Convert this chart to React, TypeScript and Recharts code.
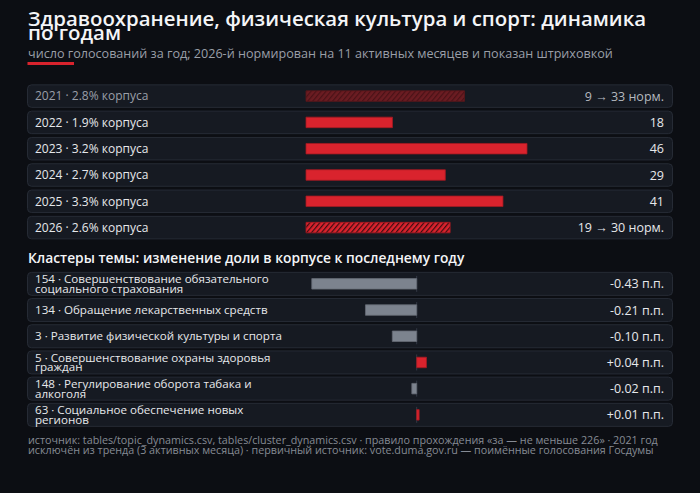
import { Bar, BarChart, Cell, LabelList, XAxis, YAxis } from 'recharts'

const YEARS = ['2021', '2022', '2023', '2024', '2025', '2026']
const CORPUS_SHARE = [2.8, 1.9, 3.2, 2.7, 3.3, 2.6]
const VOTES_RAW = [9, 18, 46, 29, 41, 19]
const VOTES_NORM = [33, 18, 46, 29, 41, 30]
const NORMALIZED_YEARS = ['2021', '2026']
const EXCLUDED_YEARS = ['2021']

const CLUSTER_IDS = [154, 134, 3, 5, 148, 63]
const CLUSTER_NAMES = [
  'Совершенствование обязательного социального страхования',
  'Обращение лекарственных средств',
  'Развитие физической культуры и спорта',
  'Совершенствование охраны здоровья граждан',
  'Регулирование оборота табака и алкоголя',
  'Социальное обеспечение новых регионов',
]
const SHARE_DELTA = [-0.43, -0.21, -0.1, 0.04, -0.02, 0.01]

const TITLE_LINES = ['Здравоохранение, физическая культура и спорт: динамика', 'по годам']
const SUBTITLE = 'число голосований за год; 2026-й нормирован на 11 активных месяцев и показан штриховкой'
const CLUSTER_TITLE = 'Кластеры темы: изменение доли в корпусе к последнему году'
const FOOTER_LINES = [
  'источник: tables/topic_dynamics.csv, tables/cluster_dynamics.csv · правило прохождения «за — не меньше 226» · 2021 год',
  'исключён из тренда (3 активных месяца) · первичный источник: vote.duma.gov.ru — поимённые голосования Госдумы',
]

const FONT = '"Open Sans", "Noto Sans", sans-serif'
const BG = '#0c0e13'
const PANEL = '#161a22'
const BORDER = '#262b35'
const RED = '#d9232d'
const GREY_BAR = '#7c838e'
const TEXT = '#e6e8eb'
const MUTED = '#9a9fa8'

const PANEL_X = 27.5
const PANEL_W = 645
const DELTA_DOMAIN: [number, number] = [-0.5, 0.5]

const yearRows = YEARS.map((year, i) => {
  const normalized = NORMALIZED_YEARS.includes(year)
  return {
    year,
    label: `${year} · ${CORPUS_SHARE[i]}% корпуса`,
    votes: VOTES_NORM[i],
    valueText: normalized ? `${VOTES_RAW[i]} → ${VOTES_NORM[i]} норм.` : `${VOTES_RAW[i]}`,
    normalized,
    excluded: EXCLUDED_YEARS.includes(year),
  }
})

const clusterRows = CLUSTER_IDS.map((id, i) => ({
  id: String(id),
  label: `${id} · ${CLUSTER_NAMES[i]}`,
  delta: SHARE_DELTA[i],
  valueText: `${SHARE_DELTA[i] > 0 ? '+' : ''}${SHARE_DELTA[i].toFixed(2)} п.п.`,
}))

// crude word wrap, roughly what fits left of the bar area
function wrap(text: string, maxChars: number) {
  const lines: string[] = []
  let cur = ''
  for (const w of text.split(' ')) {
    const next = cur ? cur + ' ' + w : w
    if (next.length > maxChars && cur) {
      lines.push(cur)
      cur = w
    } else cur = next
  }
  if (cur) lines.push(cur)
  return lines
}

function box(p: any) {
  const vb = p.viewBox ?? p
  return { y: vb.y as number, h: vb.height as number }
}

function yearPanel(p: any) {
  const cy = p.y + p.height / 2
  return <rect x={PANEL_X} y={cy - 11.25} width={PANEL_W} height={22.5} rx={4} fill={PANEL} stroke={BORDER} />
}

function clusterPanel(p: any) {
  const cy = p.y + p.height / 2
  const zero = p.x + (p.width * (0 - DELTA_DOMAIN[0])) / (DELTA_DOMAIN[1] - DELTA_DOMAIN[0])
  return (
    <g>
      <rect x={PANEL_X} y={cy - 11.5} width={PANEL_W} height={23} rx={4} fill={PANEL} stroke={BORDER} />
      <line x1={zero} x2={zero} y1={cy - 8} y2={cy + 8} stroke="#333945" strokeWidth={1} />
    </g>
  )
}

function yearLabel(p: any) {
  const { y, h } = box(p)
  const row = yearRows[p.index]
  return (
    <text x={35} y={y + h / 2} dy="0.36em" fontSize={12} fill={row.excluded ? MUTED : TEXT} fontFamily={FONT}>
      {p.value}
    </text>
  )
}

function yearValue(p: any) {
  const { y, h } = box(p)
  const row = yearRows[p.index]
  return (
    <text x={664} y={y + h / 2} dy="0.36em" fontSize={12.5} textAnchor="end" fill={row.excluded ? '#b4b8bf' : TEXT} fontFamily={FONT}>
      {p.value}
    </text>
  )
}

function clusterLabel(p: any) {
  const { y, h } = box(p)
  const cy = y + h / 2
  const lines = wrap(String(p.value), 41)
  const step = 9.4
  const top = cy - ((lines.length - 1) * step) / 2
  return (
    <text fontSize={11.6} fill={TEXT} fontFamily={FONT}>
      {lines.map((l, i) => (
        <tspan key={i} x={35} y={top + i * step} dy="0.36em">
          {l}
        </tspan>
      ))}
    </text>
  )
}

function clusterValue(p: any) {
  const { y, h } = box(p)
  return (
    <text x={664} y={y + h / 2} dy="0.36em" fontSize={12.5} textAnchor="end" fill={TEXT} fontFamily={FONT}>
      {p.value}
    </text>
  )
}

export default function App() {
  return (
    <div style={{ position: 'absolute', left: 0, top: 0, width: 700, height: 493, background: BG, overflow: 'hidden' }}>
      <svg width={700} height={493} style={{ position: 'absolute', left: 0, top: 0 }} fontFamily={FONT}>
        <text x={28} y={25.7} fontSize={20.4} fontWeight={600} fill="#f4f5f7">
          {TITLE_LINES[0]}
        </text>
        <text x={28} y={40} fontSize={20.4} fontWeight={600} fill="#f4f5f7">
          {TITLE_LINES[1]}
        </text>
        <text x={28} y={57.7} fontSize={12.6} fill={MUTED}>
          {SUBTITLE}
        </text>
        <rect x={27.5} y={62} width={46.5} height={3} fill={RED} />
        <text x={28} y={263.3} fontSize={13.8} fontWeight={600} fill="#f4f5f7">
          {CLUSTER_TITLE}
        </text>
        <text x={28} y={444.3} fontSize={10.75} fill="#868b94">
          {FOOTER_LINES[0]}
        </text>
        <text x={28} y={454.3} fontSize={10.75} fill="#868b94">
          {FOOTER_LINES[1]}
        </text>
      </svg>

      <div style={{ position: 'absolute', left: 0, top: 0 }}>
        <BarChart
          width={700}
          height={250}
          data={yearRows}
          layout="vertical"
          margin={{ top: 82.85, right: 173, bottom: 9.35, left: 306 }}
          barSize={10.5}
        >
          <defs>
            <pattern id="hatchNorm" patternUnits="userSpaceOnUse" width={3.8} height={3.8} patternTransform="rotate(40)">
              <rect width={3.8} height={3.8} fill={RED} />
              <rect width={1.2} height={3.8} fill="#3c0c10" />
            </pattern>
            <pattern id="hatchDim" patternUnits="userSpaceOnUse" width={3.8} height={3.8} patternTransform="rotate(40)">
              <rect width={3.8} height={3.8} fill="#6b1c22" />
              <rect width={1.2} height={3.8} fill="#4a1217" />
            </pattern>
          </defs>
          <XAxis type="number" domain={[0, 46]} hide />
          <YAxis type="category" dataKey="year" hide />
          <Bar dataKey="votes" isAnimationActive={false} background={yearPanel} strokeWidth={0.8}>
            {yearRows.map((r) => (
              <Cell
                key={r.year}
                fill={r.excluded ? 'url(#hatchDim)' : r.normalized ? 'url(#hatchNorm)' : RED}
                stroke={r.excluded ? '#5a161b' : '#a51a22'}
              />
            ))}
            <LabelList dataKey="label" content={yearLabel} />
            <LabelList dataKey="valueText" content={yearValue} />
          </Bar>
        </BarChart>
      </div>

      <div style={{ position: 'absolute', left: 0, top: 250 }}>
        <BarChart
          width={700}
          height={190}
          data={clusterRows}
          layout="vertical"
          margin={{ top: 20.6, right: 161.3, bottom: 12.2, left: 294.7 }}
          barSize={10.5}
        >
          <XAxis type="number" domain={DELTA_DOMAIN} hide />
          <YAxis type="category" dataKey="id" hide />
          <Bar dataKey="delta" isAnimationActive={false} background={clusterPanel} strokeWidth={0.8}>
            {clusterRows.map((r) => (
              <Cell key={r.id} fill={r.delta > 0 ? RED : GREY_BAR} stroke={r.delta > 0 ? '#a51a22' : '#646a74'} />
            ))}
            <LabelList dataKey="label" content={clusterLabel} />
            <LabelList dataKey="valueText" content={clusterValue} />
          </Bar>
        </BarChart>
      </div>
    </div>
  )
}
